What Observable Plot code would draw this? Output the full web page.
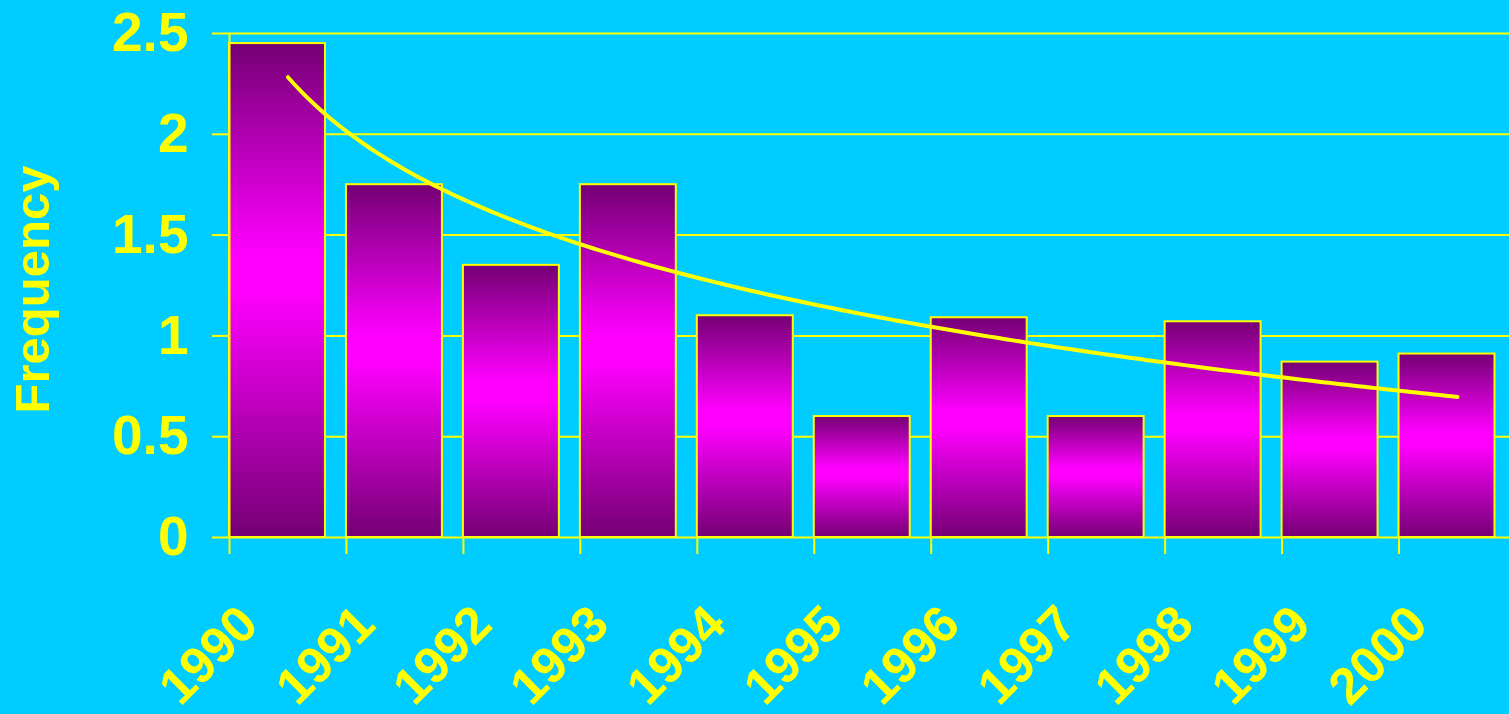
<!DOCTYPE html>
<html>
<head>
<meta charset="utf-8">
<script src="https://cdn.jsdelivr.net/npm/d3@7"></script>
<script src="https://cdn.jsdelivr.net/npm/@observablehq/plot@0.6"></script>
<style>
  html, body { margin: 0; padding: 0; background: #00CCFF; overflow: hidden; }
  #chart svg { display: block; }
</style>
</head>
<body>
<div id="chart"></div>
<script>
const years = ["1990","1991","1992","1993","1994","1995","1996","1997","1998","1999","2000"];
const values = [2.45, 1.75, 1.35, 1.75, 1.1, 0.6, 1.09, 0.6, 1.07, 0.87, 0.91];
const yTicks = [0, 0.5, 1, 1.5, 2, 2.5];
const yLabel = "Frequency";

const data = years.map((year, k) => ({year, i: k + 1, value: values[k]}));

// Logarithmic trendline (least-squares fit of value on ln(i)), as in the source chart
const lx = data.map(d => Math.log(d.i));
const mx = d3.mean(lx), my = d3.mean(values);
const b = d3.sum(data, (d, k) => (lx[k] - mx) * (d.value - my)) / d3.sum(lx, v => (v - mx) ** 2);
const a = my - b * mx;
const trend = d3.range(0, 201).map(k => {
  const t = 1 + k * (data.length - 1) / 200;
  return {t, v: a + b * Math.log(t)};
});

const YELLOW = "#FFFF00";
const FONT = "'Liberation Sans', Arial, sans-serif";

const plot = Plot.plot({
  width: 1509,
  height: 714,
  marginTop: 33,
  marginBottom: 177,
  marginLeft: 229,
  marginRight: 0,
  style: {background: "#00CCFF", color: YELLOW, fontFamily: FONT, overflow: "visible"},
  x: {domain: [0.5, 11.5], range: [229, 1515.5], axis: null},
  y: {domain: [0, 2.5], axis: null},
  marks: [
    Plot.ruleY(yTicks, {stroke: YELLOW, strokeWidth: 2}),
    Plot.axisY({ticks: yTicks, tickFormat: d => String(d), tickSize: 17, tickPadding: 24,
      fontSize: 55, fontWeight: "bold", strokeWidth: 2, label: null}),
    Plot.axisX({ticks: d3.range(0, 10 + 1).map(k => k + 0.5), tickSize: 17, strokeWidth: 2,
      tickFormat: () => "", label: null}),
    Plot.rectY(data, {x1: d => d.i - 0.5, x2: d => d.i + 0.5, y: "value", insetRight: 21,
      fill: "url(#barGrad)", stroke: YELLOW, strokeWidth: 2}),
    Plot.ruleX([0.5], {y1: 0, y2: 2.5, stroke: YELLOW, strokeWidth: 2}),
    Plot.line(trend, {x: "t", y: "v", stroke: YELLOW, strokeWidth: 4, strokeLinecap: "round"}),
    Plot.text(data, {x: "i", y: 0, text: "year", rotate: -45, textAnchor: "end", lineAnchor: "middle",
      dx: -39, dy: 78, fontSize: 51, fontWeight: "bold", fill: YELLOW}),
    Plot.text([yLabel], {frameAnchor: "left", rotate: -90, textAnchor: "middle", lineAnchor: "middle",
      dx: -196, dy: 4, fontSize: 49, fontWeight: "bold", fill: YELLOW})
  ]
});

const svg = d3.select(plot);
const grad = svg.insert("defs", ":first-child").append("linearGradient")
  .attr("id", "barGrad").attr("x1", 0).attr("y1", 0).attr("x2", 0).attr("y2", 1);
grad.append("stop").attr("offset", "0%").attr("stop-color", "#740074");
grad.append("stop").attr("offset", "43%").attr("stop-color", "#FF00FF");
grad.append("stop").attr("offset", "50%").attr("stop-color", "#FF00FF");
grad.append("stop").attr("offset", "100%").attr("stop-color", "#740074");

document.getElementById("chart").appendChild(plot);
</script>
</body>
</html>
